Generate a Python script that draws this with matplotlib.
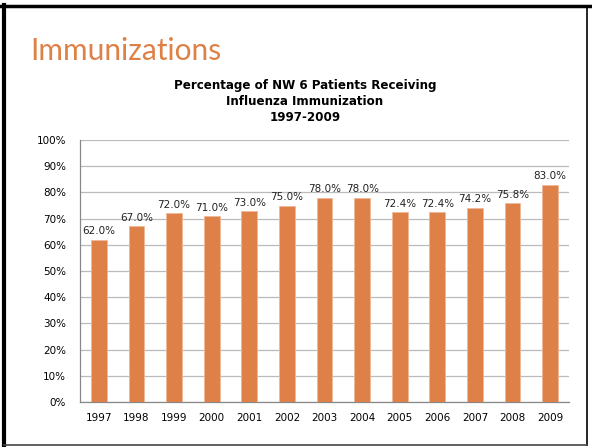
import matplotlib.pyplot as plt
from matplotlib.lines import Line2D

years = ['1997', '1998', '1999', '2000', '2001', '2002', '2003',
         '2004', '2005', '2006', '2007', '2008', '2009']
pct = [62.0, 67.0, 72.0, 71.0, 73.0, 75.0, 78.0, 78.0, 72.4, 72.4, 74.2, 75.8, 83.0]

W, H = 592, 447
fig = plt.figure(figsize=(W / 100, H / 100), dpi=100)
fig.patch.set_facecolor('white')

# slide frame
fig.add_artist(Line2D([4 / W, 4 / W], [0, 1 - 5 / H], color='black', lw=3))
fig.add_artist(Line2D([0, 1], [1 - 6 / H, 1 - 6 / H], color='black', lw=2.5))
fig.add_artist(Line2D([587 / W, 587 / W], [2 / H, 1 - 6 / H], color='black', lw=1.2))
fig.add_artist(Line2D([4 / W, 587 / W], [2 / H, 2 / H], color='#444444', lw=1.2))

fig.text(30 / W, 1 - 60 / H, 'Immunizations', color='#DE8147', fontsize=21.5,
         family='Lato', ha='left', va='baseline')

# axes: x 80..569, y 140..402
ax = fig.add_axes([80 / W, 1 - 402 / H, (569 - 80) / W, (402 - 140) / H])
x = range(len(years))
ax.bar(x, pct, width=0.42, color='#DE8149', edgecolor='#F0B898', linewidth=0.6, zorder=3)
for xi, v in zip(x, pct):
    ax.text(xi, v + 1.2, f'{v:.1f}%', ha='center', va='bottom', fontsize=7.5, color='#222222')

ax.set_xlim(-0.5, len(years) - 0.5)
ax.set_ylim(0, 100)
ax.set_yticks(range(0, 101, 10))
ax.set_yticklabels([f'{t}%' for t in range(0, 101, 10)], fontsize=7.5)
ax.set_xticks(list(x))
ax.set_xticklabels(years, fontsize=7.5)
ax.tick_params(length=0, pad=8)
ax.tick_params(axis='y', pad=10)
ax.yaxis.grid(True, color='#BBBBBB', lw=0.9, zorder=0)
for s in ['top', 'right']:
    ax.spines[s].set_visible(False)
for s in ['left', 'bottom']:
    ax.spines[s].set_color('#888888')
    ax.spines[s].set_linewidth(0.9)

fig.text(305 / W, 1 - 79 / H,
         'Percentage of NW 6 Patients Receiving\nInfluenza Immunization\n1997-2009',
         ha='center', va='top', fontsize=8.6, fontweight='bold', linespacing=1.3)

fig.savefig('out.png', dpi=100)
